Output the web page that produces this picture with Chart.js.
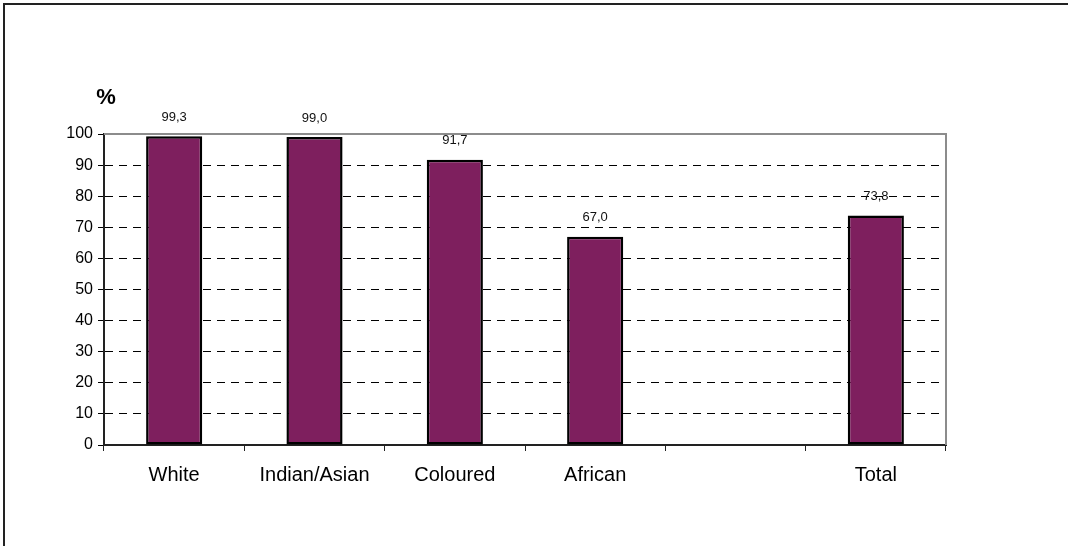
<!DOCTYPE html>
<html>
<head>
<meta charset="utf-8">
<script src="https://cdn.jsdelivr.net/npm/chart.js@4/dist/chart.umd.min.js"></script>
<style>
  html, body { margin: 0; padding: 0; background: #fff; overflow: hidden; }
  #wrap { position: relative; width: 1068px; height: 546px; }
  #frame { position: absolute; left: 3px; top: 3px; width: 1200px; height: 700px; border-top: 2px solid #222; border-left: 2px solid #222; box-sizing: border-box; pointer-events: none; }
  canvas { position: absolute; left: 0; top: 0; }
</style>
</head>
<body>
<div id="wrap">
  <canvas id="c" width="1068" height="546"></canvas>
  <div id="frame"></div>
</div>
<script>
const categories = ['White', 'Indian/Asian', 'Coloured', 'African', '', 'Total'];
const percentValues = [99.3, 99.0, 91.7, 67.0, null, 73.8];
const yTicks = [0, 10, 20, 30, 40, 50, 60, 70, 80, 90, 100];
const unitLabel = '%';

const FONT = "'Liberation Sans', Arial, sans-serif";

const decorPlugin = {
  id: 'decor',
  afterDatasetsDraw(chart) {
    const ctx = chart.ctx;
    const a = chart.chartArea;
    ctx.save();
    // plot area frame (top and right)
    ctx.strokeStyle = '#8c8c8c';
    ctx.lineWidth = 2;
    ctx.beginPath();
    ctx.moveTo(a.left, a.top);
    ctx.lineTo(a.right, a.top);
    ctx.lineTo(a.right, a.bottom);
    ctx.stroke();
    // value labels
    const meta = chart.getDatasetMeta(0);
    ctx.fillStyle = '#111';
    ctx.font = '13px ' + FONT;
    ctx.textAlign = 'center';
    ctx.textBaseline = 'middle';
    meta.data.forEach((bar, i) => {
      const v = chart.data.datasets[0].data[i];
      if (v === null || v === undefined) return;
      ctx.fillText(v.toFixed(1).replace('.', ','), bar.x, bar.y - 19);
    });
    // unit label
    ctx.font = 'bold 22px ' + FONT;
    ctx.fillStyle = '#000';
    ctx.fillText(unitLabel, a.left + 2, a.top - 36);
    ctx.restore();
  }
};

new Chart(document.getElementById('c'), {
  type: 'bar',
  data: {
    labels: categories,
    datasets: [{
      data: percentValues,
      backgroundColor: '#7e1f5e',
      borderColor: '#000',
      borderWidth: 2.5,
      borderSkipped: false,
      categoryPercentage: 1,
      barPercentage: 0.4
    }]
  },
  options: {
    responsive: false,
    animation: false,
    devicePixelRatio: 1,
    layout: { padding: { left: 0, top: 134, right: 122, bottom: 0 } },
    plugins: { legend: { display: false }, tooltip: { enabled: false } },
    scales: {
      x: {
        offset: true,
        grid: { offset: true, drawOnChartArea: false, drawTicks: true, tickLength: 6, color: '#222', lineWidth: 1 },
        border: { display: true, color: '#222', width: 2 },
        ticks: { color: '#000', font: { family: FONT, size: 20 }, padding: 12, maxRotation: 0, autoSkip: false },
        afterFit(scale) { scale.height = 101; }
      },
      y: {
        min: 0,
        max: 100,
        afterBuildTicks(scale) { scale.ticks = yTicks.map(v => ({ value: v })); },
        grid: { color: '#000', lineWidth: 1, tickLength: 6, drawTicks: true },
        border: { display: true, color: '#222', width: 2, dash: [8, 6] },
        ticks: { color: '#000', font: { family: FONT, size: 16 }, padding: 5 },
        afterFit(scale) { scale.width = 104; }
      }
    }
  },
  plugins: [decorPlugin]
});
</script>
</body>
</html>
